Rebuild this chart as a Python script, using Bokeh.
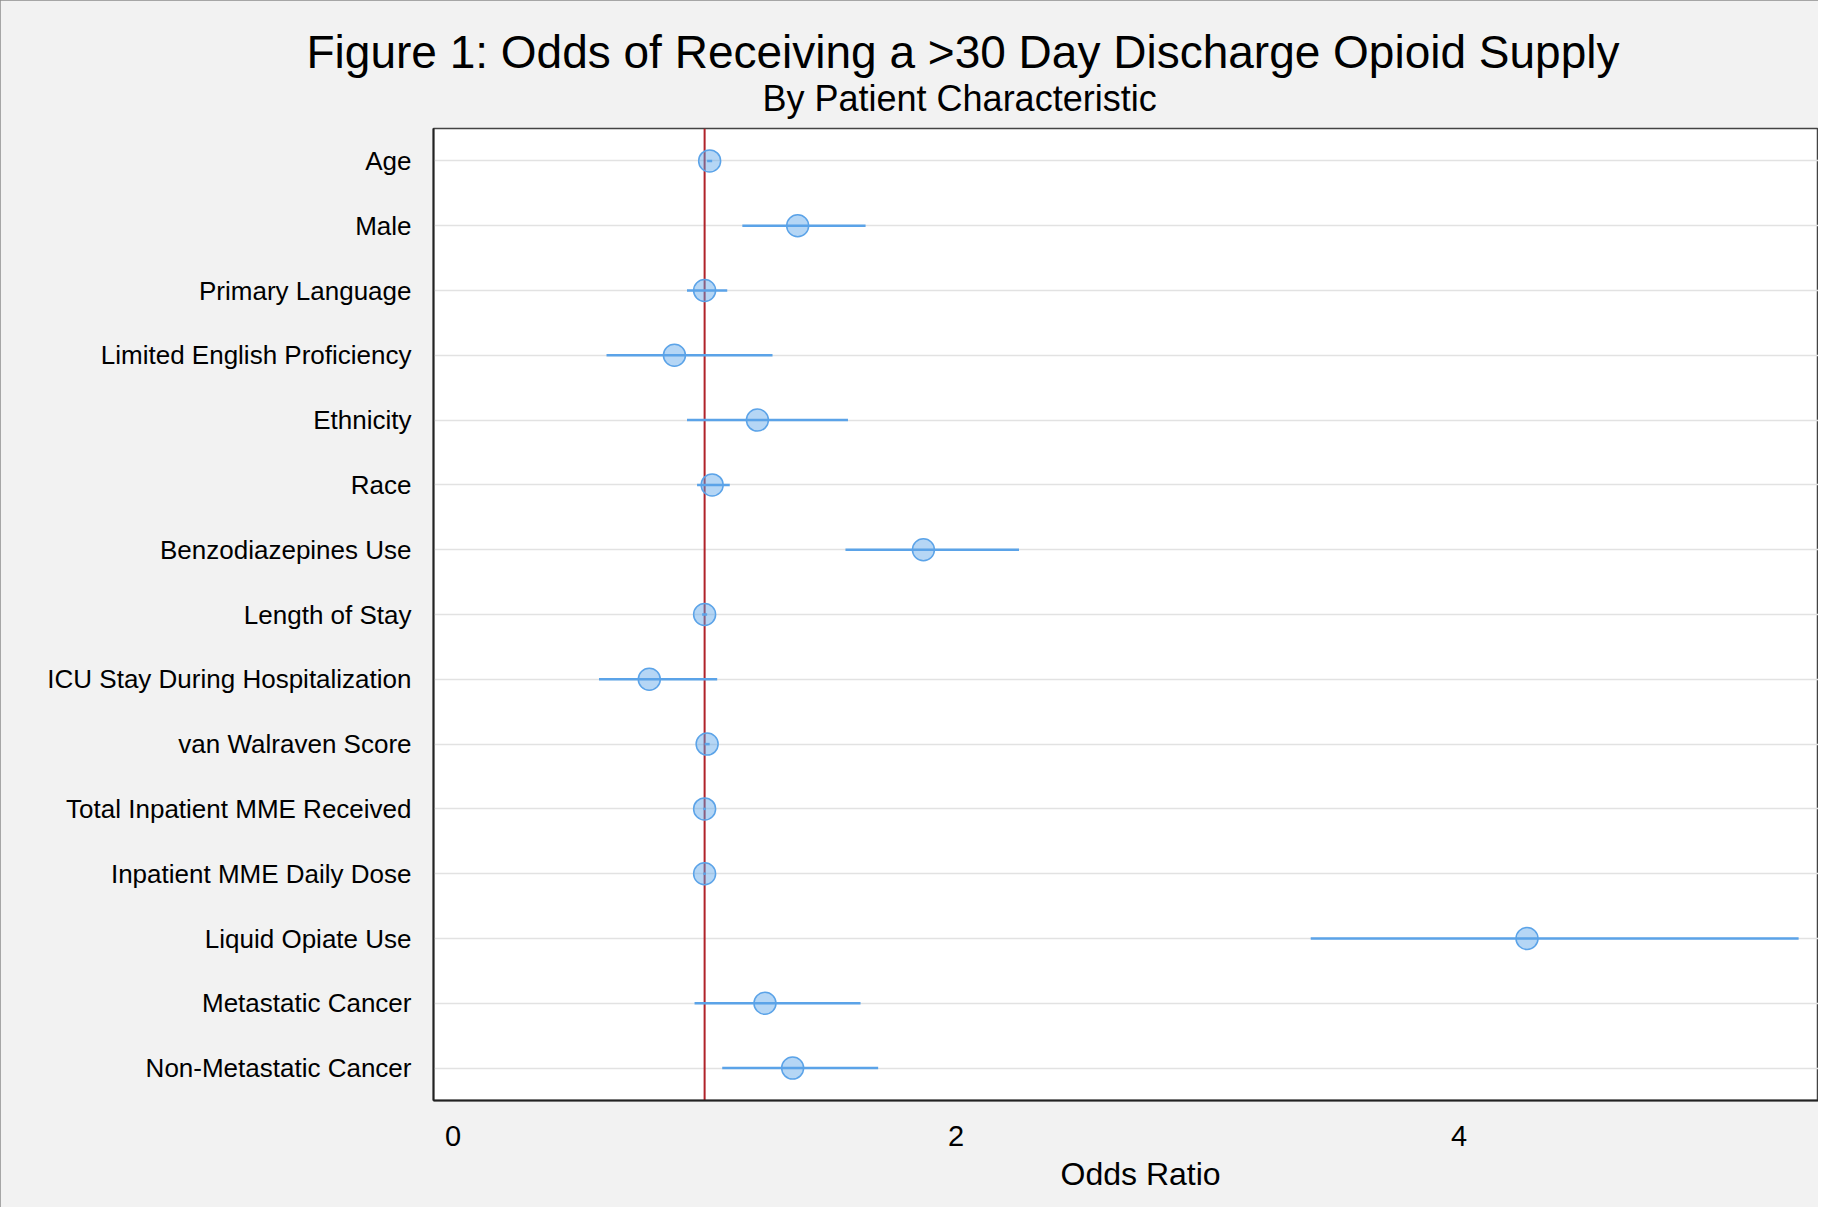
from bokeh.plotting import figure
from bokeh.models import Range1d, FactorRange, Span, Title, ColumnDataSource
from bokeh.embed import file_html
from bokeh.resources import INLINE

# ---------------- data ----------------
categories = [
    "Age",
    "Male",
    "Primary Language",
    "Limited English Proficiency",
    "Ethnicity",
    "Race",
    "Benzodiazepines Use",
    "Length of Stay",
    "ICU Stay During Hospitalization",
    "van Walraven Score",
    "Total Inpatient MME Received",
    "Inpatient MME Daily Dose",
    "Liquid Opiate Use",
    "Metastatic Cancer",
    "Non-Metastatic Cancer",
]
odds_ratio = [1.02, 1.37, 1.00, 0.88, 1.21, 1.03, 1.87, 1.00, 0.78, 1.01, 1.00, 1.00, 4.27, 1.24, 1.35]
ci_low = [1.01, 1.15, 0.93, 0.61, 0.93, 0.97, 1.56, 0.99, 0.58, 1.00, 0.995, 0.995, 3.41, 0.96, 1.07]
ci_high = [1.03, 1.64, 1.09, 1.27, 1.57, 1.10, 2.25, 1.01, 1.05, 1.02, 1.005, 1.005, 5.35, 1.62, 1.69]
x_ticks = [0, 2, 4]
reference_value = 1

title_text = "Figure 1: Odds of Receiving a >30 Day Discharge Opioid Supply"
subtitle_text = "By Patient Characteristic"
x_label = "Odds Ratio"

FONT = "Liberation Sans"

source = ColumnDataSource(dict(cat=categories, orv=odds_ratio, lo=ci_low, hi=ci_high))

p = figure(
    width=1818,
    height=1207,
    x_range=Range1d(-0.078, 5.429),
    y_range=FactorRange(factors=list(reversed(categories))),
    output_backend="svg",
    toolbar_location=None,
    min_border_left=433,
    min_border_right=0,
    min_border_top=128,
    min_border_bottom=107,
    border_fill_color="#f2f2f2",
    background_fill_color="white",
)
# thin grey frame around the whole figure (drawn inside, does not change the size)
p.styles = {"outline": "2px solid #8c8c8c", "outline-offset": "-2px"}

# main title
p.title.text = title_text
p.title.align = "left"
p.title.offset = -127
p.title.text_font = FONT
p.title.text_font_size = "46px"
p.title.text_font_style = "normal"
p.title.text_color = "black"
p.title.standoff = -24
p.title.vertical_align = "bottom"

# subtitle
p.add_layout(Title(text=subtitle_text, align="left", offset=329, text_font=FONT,
                   text_font_size="36px", text_font_style="normal", text_color="black",
                   standoff=20, vertical_align="bottom"), "above")

# x-axis title (placed as a title below the axis, so it can be positioned freely)
p.add_layout(Title(text=x_label, align="left", offset=627, text_font=FONT,
                   text_font_size="32px", text_font_style="normal", text_color="black",
                   standoff=14, vertical_align="top"), "below")

# frame outline
p.outline_line_color = "#444444"
p.outline_line_width = 1.5

# grid
p.xgrid.grid_line_color = None
p.ygrid.grid_line_color = "#e2e2e2"
p.ygrid.grid_line_width = 1.5

# x axis
p.xaxis.ticker = x_ticks
p.xaxis.major_tick_line_color = None
p.xaxis.minor_tick_line_color = None
p.xaxis.axis_line_color = "#222222"
p.xaxis.axis_line_width = 2
p.xaxis.major_label_text_font = FONT
p.xaxis.major_label_text_font_size = "29px"
p.xaxis.major_label_text_color = "black"
p.xaxis.major_label_standoff = 19

# y axis
p.yaxis.major_tick_line_color = None
p.yaxis.minor_tick_line_color = None
p.yaxis.axis_line_color = "#222222"
p.yaxis.axis_line_width = 2
p.yaxis.major_label_text_font = FONT
p.yaxis.major_label_text_font_size = "26px"
p.yaxis.major_label_text_color = "black"
p.yaxis.major_label_standoff = 16

# reference line at OR = 1
p.add_layout(Span(location=reference_value, dimension="height", line_color="#b0232a",
                  line_width=2, level="underlay"))

# confidence intervals and point estimates
p.segment(x0="lo", x1="hi", y0="cat", y1="cat", source=source,
          line_color="#5ba3e8", line_width=2.5)
p.scatter(x="orv", y="cat", source=source, size=22, marker="circle",
          fill_color="#5ba3e8", fill_alpha=0.45, line_color="#5ba3e8", line_width=1.5)

open("out.html", "w").write(file_html(p, INLINE))
